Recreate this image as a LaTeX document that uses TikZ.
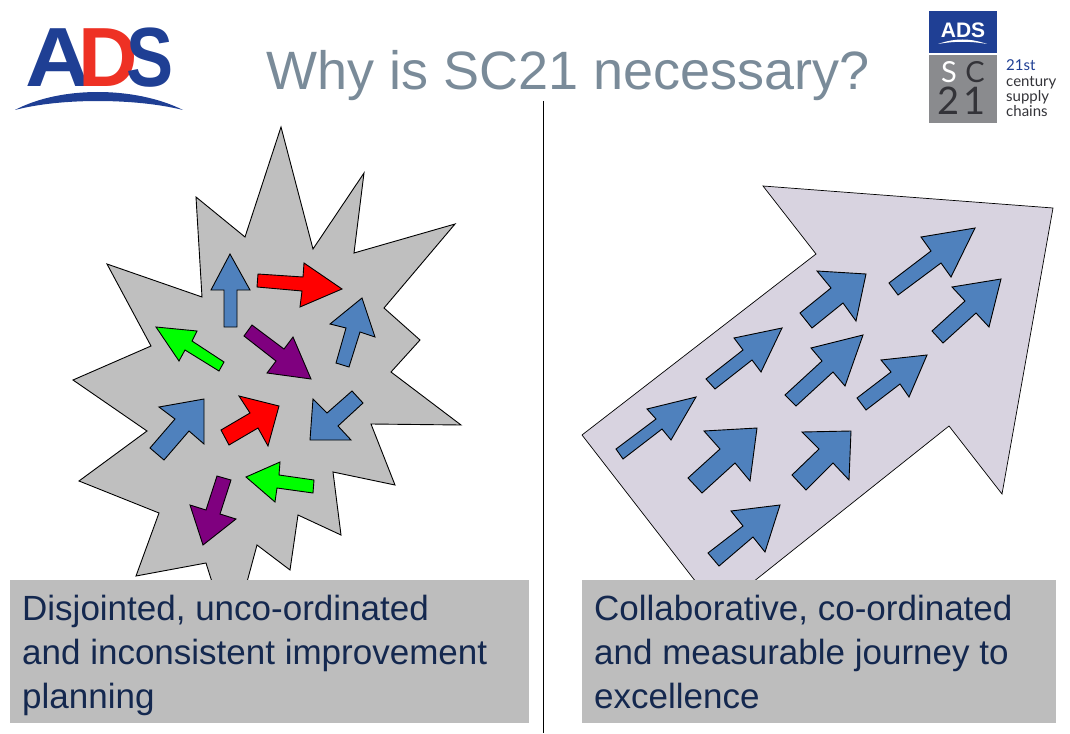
\documentclass[tikz,border=0pt]{standalone}
\usepackage{fontspec}
\setmainfont{Liberation Sans}
\newfontfamily\logofont{Lato}
\definecolor{titlegrey}{HTML}{7A8B99}
\definecolor{navytext}{HTML}{14284F}
\definecolor{boxgrey}{HTML}{BDBDBD}
\definecolor{burstgrey}{HTML}{BFBFBF}
\definecolor{lilac}{HTML}{D8D3E0}
\definecolor{steelblue}{HTML}{4F81BD}
\definecolor{adsblue}{HTML}{1F3F94}
\definecolor{adsred}{HTML}{EE3124}
\definecolor{logogrey}{HTML}{8A8B8E}
\definecolor{logodark}{HTML}{333338}
\definecolor{arrowpurple}{HTML}{7F007F}
\tikzset{
  shapeline/.style={draw=black,line width=0.9pt,line join=miter},
  bluearrow/.style={shapeline,fill=steelblue},
  redarrow/.style={shapeline,fill=red},
  greenarrow/.style={shapeline,fill=green},
  purplearrow/.style={shapeline,fill=arrowpurple},
  captionbox/.style={fill=boxgrey,draw=none},
  captiontext/.style={anchor=base west,inner sep=0pt,text=navytext,font=\fontsize{35}{44}\selectfont},
  logoletter/.style={anchor=base,inner sep=0pt,font=\bfseries\fontsize{84}{84}\selectfont},
  minitext/.style={anchor=base west,inner sep=0pt,text=logodark,font=\logofont\fontsize{15}{15}\selectfont},
  bigsc/.style={anchor=base,inner sep=0pt,font=\logofont\fontsize{29}{29}\selectfont},
}
\begin{document}
\begin{tikzpicture}[x=1pt,y=-1pt]
\useasboundingbox (0,0) rectangle (1070,733);
% burst
\draw[shapeline,fill=burstgrey] (281,127)--(313,249)--(364,173)--(354,253)--(455,224)--(384,308)--(420,340)--(391,372)--(461,425)--(371,424)--(395,485)--(333,472)--(341,535)--(298,515)--(290,570)--(257,545)--(247,582)--(212,582)--(206,563)--(136,576)--(159,513)--(79,481)--(147,431)--(73,380)--(151,346)--(107,264)--(202,297)--(196,197)--(245,237)--cycle;
% burst arrows
\draw[bluearrow] (230,254)--(250,290)--(237,290)--(237,327)--(224,327)--(224,290)--(211,290)--cycle;
\draw[redarrow] (342,289)--(300,307)--(302,291)--(257,287)--(258,274)--(303,277)--(304,263)--cycle;
\draw[bluearrow] (362,298)--(375,337)--(360,332)--(349,367)--(336,363)--(346,328)--(330,324)--cycle;
\draw[greenarrow] (156,327)--(197,331)--(192,341)--(224,362)--(219,371)--(185,350)--(179,361)--cycle;
\draw[purplearrow] (311,379)--(267,373)--(276,361)--(244,336)--(252,325)--(284,349)--(293,337)--cycle;
\draw[bluearrow] (204,399)--(204,444)--(189,431)--(164,460)--(150,448)--(175,419)--(159,407)--cycle;
\draw[redarrow] (279,406)--(268,446)--(258,428)--(229,445)--(221,430)--(250,413)--(239,396)--cycle;
\draw[bluearrow] (310,440)--(313,399)--(327,413)--(352,391)--(363,403)--(338,426)--(351,440)--cycle;
\draw[greenarrow] (246,477)--(280,462)--(279,475)--(314,480)--(313,493)--(277,488)--(275,502)--cycle;
\draw[purplearrow] (203,545)--(190,505)--(206,510)--(217,476)--(231,480)--(220,514)--(236,519)--cycle;
% big arrow
\draw[shapeline,line width=0.7pt,fill=lilac] (763,186)--(1053,208)--(1002,494)--(949,426)--(753,582)--(696,582)--(582,435)--(816,254)--cycle;
\draw[bluearrow] (975,228)--(951,277)--(941,263)--(898,295)--(889,283)--(931,251)--(921,237)--cycle;
\draw[bluearrow] (1001,279)--(989,327)--(976,313)--(943,343)--(932,331)--(965,301)--(952,287)--cycle;
\draw[bluearrow] (866,274)--(856,321)--(843,303)--(812,328)--(800,313)--(831,288)--(817,271)--cycle;
\draw[bluearrow] (782,328)--(761,372)--(752,360)--(715,389)--(706,379)--(743,350)--(734,338)--cycle;
\draw[bluearrow] (863,335)--(845,386)--(833,372)--(796,406)--(785,395)--(822,361)--(811,348)--cycle;
\draw[bluearrow] (927,355)--(909,397)--(900,384)--(866,410)--(857,398)--(891,372)--(881,360)--cycle;
\draw[bluearrow] (696,397)--(671,440)--(662,429)--(623,459)--(616,449)--(656,419)--(647,409)--cycle;
\draw[bluearrow] (757,428)--(750,481)--(735,463)--(702,493)--(688,478)--(720,449)--(704,431)--cycle;
\draw[bluearrow] (851,431)--(849,480)--(833,463)--(806,490)--(792,475)--(819,449)--(802,432)--cycle;
\draw[bluearrow] (780,505)--(765,552)--(753,537)--(719,566)--(708,553)--(743,526)--(731,511)--cycle;
% divider
\coordinate (divtop) at (543,101);
\coordinate (divbot) at (543,733);
\draw[black,line width=0.9pt] (divtop)--(divbot);
% captions
\fill[captionbox] (10,580) rectangle (529,723);
\fill[captionbox] (582,580) rectangle (1056,723);
\node[captiontext] (cl1) at (22,620) {Disjointed, unco-ordinated};
\node[captiontext] (cl2) at (22,664) {and inconsistent improvement};
\node[captiontext] (cl3) at (22,708) {planning};
\node[captiontext] (cr1) at (594,620) {Collaborative, co-ordinated};
\node[captiontext] (cr2) at (594,664) {and measurable journey to};
\node[captiontext] (cr3) at (594,708) {excellence};
% title
\node[anchor=base west,inner sep=0pt,text=titlegrey,font=\fontsize{54}{54}\selectfont] (title) at (266,90) {Why is SC21 necessary?};
% ADS logo
\node[logoletter,text=adsblue,xscale=1.08] (logoA) at (58,87) {A};
\node[logoletter,text=adsred,xscale=0.98] (logoD) at (108,87) {D};
\node[logoletter,text=adsblue,xscale=0.84] (logoS) at (150,87) {S};
\fill[adsblue] (15,110) .. controls (60,86) and (135,86) .. (183,110) .. controls (135,98) and (60,98) .. (15,110) -- cycle;
% SC21 logo
\fill[adsblue] (929,11) rectangle (997,53);
\fill[logogrey] (929,55) rectangle (997,123);
\node[anchor=base,inner sep=0pt,text=white,font=\bfseries\fontsize{21}{21}\selectfont] (miniads) at (963,38) {ADS};
\fill[white] (938,44) .. controls (955,38) and (970,38) .. (987,44) .. controls (970,41) and (955,41) .. (938,44) -- cycle;
\node[bigsc,text=white] (sS) at (949,83) {S};
\node[bigsc,text=logodark] (sC) at (975,83) {C};
\node[bigsc,text=logodark,font=\logofont\fontsize{38}{38}\selectfont] (s2) at (949,115) {2};
\node[bigsc,text=logodark,font=\logofont\fontsize{38}{38}\selectfont] (s1) at (975,115) {1};
\node[minitext,text=adsblue] (m1) at (1006,71) {21st};
\node[minitext] (m2) at (1006,87) {century};
\node[minitext] (m3) at (1006,102) {supply};
\node[minitext] (m4) at (1006,117) {chains};
\end{tikzpicture}
\end{document}
